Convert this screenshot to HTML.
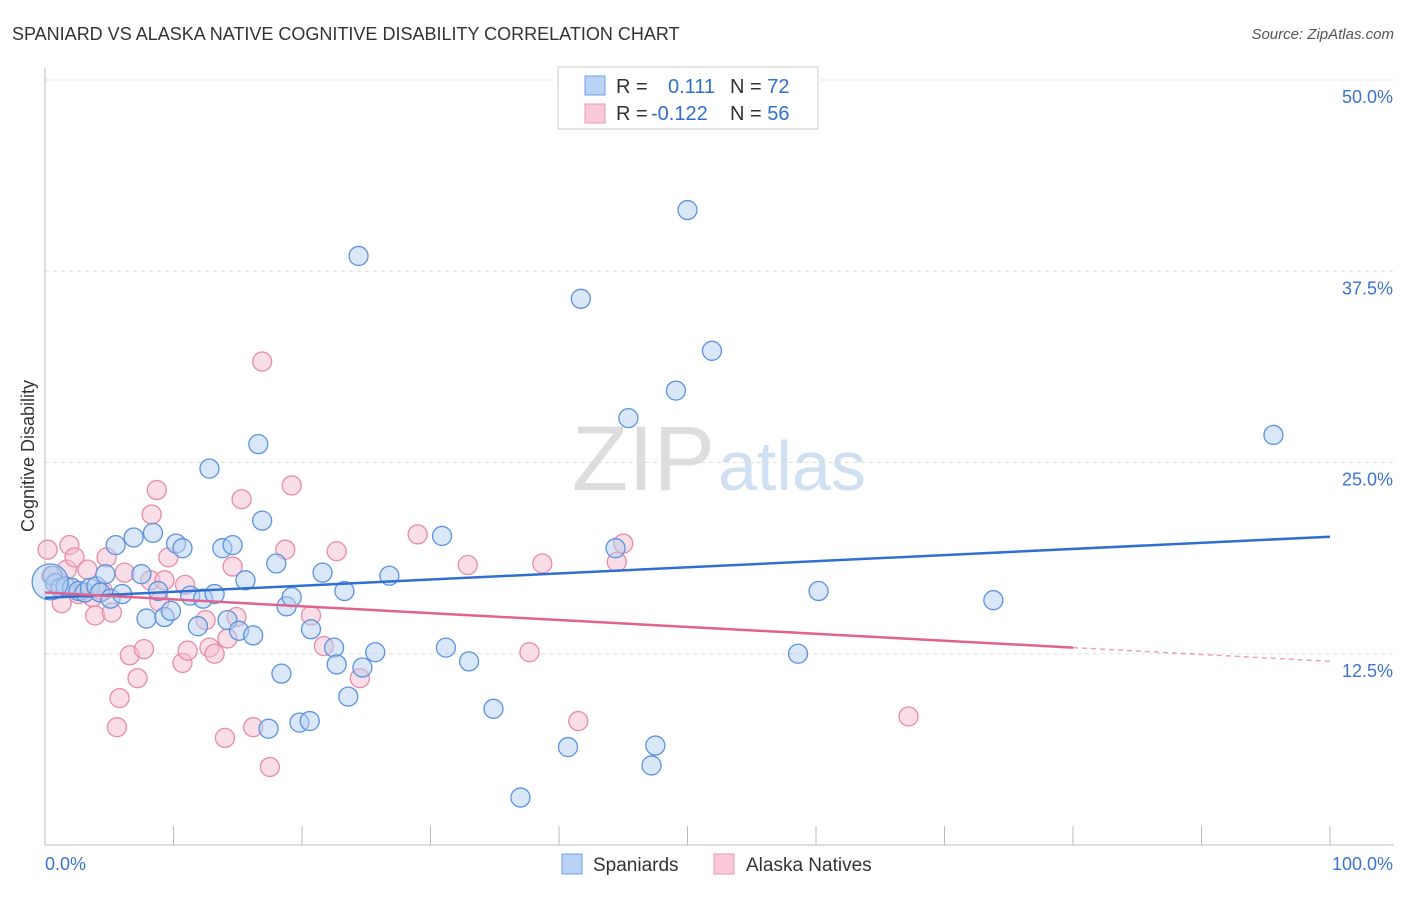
<!DOCTYPE html>
<html><head><meta charset="utf-8"><style>
body{margin:0;background:#fff;font-family:"Liberation Sans",sans-serif}
svg text{font-family:"Liberation Sans",sans-serif}
</style></head><body>
<svg id="c" width="1406" height="892">
<text x="12" y="40" font-size="18" fill="#333">SPANIARD VS ALASKA NATIVE COGNITIVE DISABILITY CORRELATION CHART</text>
<text x="1394" y="39" font-size="15" fill="#555" text-anchor="end" font-style="italic">Source: ZipAtlas.com</text>
<text x="34" y="456" font-size="18" fill="#333" text-anchor="middle" transform="rotate(-90 34 456)">Cognitive Disability</text>
<text x="715" y="490" font-size="92" fill="#ddd" text-anchor="end" font-family="Liberation Serif">ZIP</text>
<text x="718" y="490" font-size="70" fill="#cfe0f3">atlas</text>
<g id="grid"></g><g id="pts"></g><g id="lines"></g>
<g>
<rect x="558" y="67" width="260" height="62" fill="#fff" stroke="#ccc"/>
<rect x="585" y="76" width="20" height="19" fill="#b8d3f5" stroke="#6b9fe0"/>
<rect x="585" y="104" width="20" height="19" fill="#f9c9d8" stroke="#e99ab4"/>
<text x="616" y="93" font-size="20" fill="#333">R = <tspan fill="#2f6fd0" x="668">0.111</tspan><tspan fill="#333" x="730">N = </tspan><tspan fill="#2f6fd0">72</tspan></text>
<text x="616" y="120" font-size="20" fill="#333">R = <tspan fill="#2f6fd0" x="651">-0.122</tspan><tspan fill="#333" x="730">N = </tspan><tspan fill="#2f6fd0">56</tspan></text>
</g>
<g>
<rect x="562" y="854" width="20" height="20" fill="#b8d3f5" stroke="#6b9fe0"/>
<text x="593" y="871" font-size="19" fill="#333">Spaniards</text>
<rect x="714" y="854" width="20" height="20" fill="#f9c9d8" stroke="#e99ab4"/>
<text x="746" y="871" font-size="19" fill="#333">Alaska Natives</text>
</g>
</svg>
<script>
const yTicks=[12.5,25,37.5,50];
const xTickLabels=["0.0%","100.0%"];
const blueX=[0.6,0.8,1.2,1.6,2.1,2.6,3.1,3.5,4.0,4.3,4.7,5.1,5.5,6.0,6.9,7.5,7.9,8.4,8.8,9.3,9.8,10.2,10.7,11.3,11.9,12.3,12.8,13.2,13.8,14.2,14.6,15.1,15.6,16.2,16.6,16.9,17.4,18.0,18.4,18.8,19.2,19.8,20.6,20.7,21.6,22.5,22.7,23.3,23.6,24.4,24.7,25.7,26.8,30.9,31.2,33.0,34.9,37.0,40.7,41.7,44.4,45.4,47.2,47.5,49.1,50.0,51.9,58.6,60.2,73.8,95.6,0.4];
const blueY=[17.6,17.1,16.8,16.9,16.8,16.6,16.5,16.8,16.9,16.5,17.7,16.1,19.6,16.4,20.1,17.7,14.8,20.4,16.6,14.9,15.3,19.7,19.4,16.3,14.3,16.1,24.6,16.4,19.4,14.7,19.6,14.0,17.3,13.7,26.2,21.2,7.6,18.4,11.2,15.6,16.2,8.0,8.1,14.1,17.8,12.9,11.8,16.6,9.7,38.5,11.6,12.6,17.6,20.2,12.9,12.0,8.9,3.1,6.4,35.7,19.4,27.9,5.2,6.5,29.7,41.5,32.3,12.5,16.6,16.0,26.8,17.2];
const pinkX=[0.2,0.5,1.0,1.3,1.7,1.9,2.3,2.7,3.3,3.7,3.9,4.3,4.8,5.2,5.6,5.8,6.2,6.6,7.2,7.7,8.2,8.3,8.7,8.9,9.3,9.6,10.7,10.9,11.1,12.5,12.8,13.2,14.0,14.2,14.6,14.9,15.3,16.2,16.9,17.5,18.7,19.2,20.7,21.7,22.7,24.5,29.0,32.9,37.7,38.7,41.5,44.5,45.0,67.2,4.5,2.6];
const pinkY=[19.3,17.6,17.2,15.8,18.0,19.6,18.8,16.6,18.0,16.2,15.0,16.5,18.8,15.2,7.7,9.6,17.8,12.4,10.9,12.8,17.3,21.6,23.2,15.9,17.3,18.8,11.9,17.0,12.7,14.7,12.9,12.5,7.0,13.5,18.2,14.9,22.6,7.7,31.6,5.1,19.3,23.5,15.0,13.0,19.2,10.9,20.3,18.3,12.6,18.4,8.1,18.5,19.7,8.4,16.6,16.4];
const blueTrend=[16.15,0.04];
const NS="http://www.w3.org/2000/svg";
const X0=45,X1=1330,Y0=845,YT=80;
function sx(v){return X0+(X1-X0)*v/100;}
function sy(v){return Y0-(Y0-YT)*v/50;}
function mk(t,a,p){const e=document.createElementNS(NS,t);for(const k in a)e.setAttribute(k,a[k]);p.appendChild(e);return e;}
const grid=document.getElementById('grid');
yTicks.forEach(t=>{
 const l=mk('line',{x1:X0,x2:1394,y1:sy(t),y2:sy(t),stroke:'#ddd','stroke-dasharray':'4,4'},grid);
 
 
 const tx=mk('text',{x:1393,y:sy(t)+23,'font-size':18,fill:'#3b73d1','text-anchor':'end'},grid);
 tx.textContent=t.toFixed(1)+'%';
 
 
});
const ax=mk('line',{x1:X0,x2:1394,y1:Y0,y2:Y0,stroke:'#bbb'},grid);


const ay=mk('line',{x1:X0,x2:X0,y1:68,y2:Y0,stroke:'#bbb'},grid);


for(let i=1;i<=10;i++){const tk=mk('line',{x1:sx(i*10),x2:sx(i*10),y1:826,y2:Y0,stroke:'#bbb'},grid);
 
 }
[[0,'start',45],[100,'end',1393]].forEach((d,i)=>{const t=mk('text',{x:d[2],y:870,'font-size':18,fill:'#3b73d1','text-anchor':d[1]},grid);t.textContent=xTickLabels[i];
 
 });
const pts=document.getElementById('pts');
function dots(xs,ys,f,s,name){xs.forEach((x,i)=>{const r=(name==='spaniard-point'&&i===xs.length-1)?18:9.5;
 const c=mk('circle',{cx:sx(x),cy:sy(ys[i]),r:r,fill:f,'fill-opacity':0.5,stroke:s,'stroke-width':1.3},pts);
 
 });}
dots(pinkX,pinkY,'#f6bed0','#e88aaa','alaska-native-point');
dots(blueX,blueY,'#b3cff2','#5b93de','spaniard-point');
function fit(xs,ys){const n=xs.length;let mx=0,my=0;xs.forEach((x,i)=>{mx+=x;my+=ys[i];});mx/=n;my/=n;let a=0,b=0;xs.forEach((x,i)=>{a+=(x-mx)*(ys[i]-my);b+=(x-mx)*(x-mx);});const m=a/b;return [my-m*mx,m];}
const lines=document.getElementById('lines');
const bf=blueTrend;
const bl=mk('line',{x1:sx(0),y1:sy(bf[0]),x2:sx(100),y2:sy(bf[0]+bf[1]*100),stroke:'#2f6fd0','stroke-width':2.5},lines);


const pf=fit(pinkX,pinkY);
const pl=mk('line',{x1:sx(0),y1:sy(pf[0]),x2:sx(80),y2:sy(pf[0]+pf[1]*80),stroke:'#e0628e','stroke-width':2.5},lines);


const pd=mk('line',{x1:sx(80),y1:sy(pf[0]+pf[1]*80),x2:sx(100),y2:sy(pf[0]+pf[1]*100),stroke:'#e0628e','stroke-width':1.5,'stroke-dasharray':'5,4','stroke-opacity':0.6},lines);


</script>
</body></html>
